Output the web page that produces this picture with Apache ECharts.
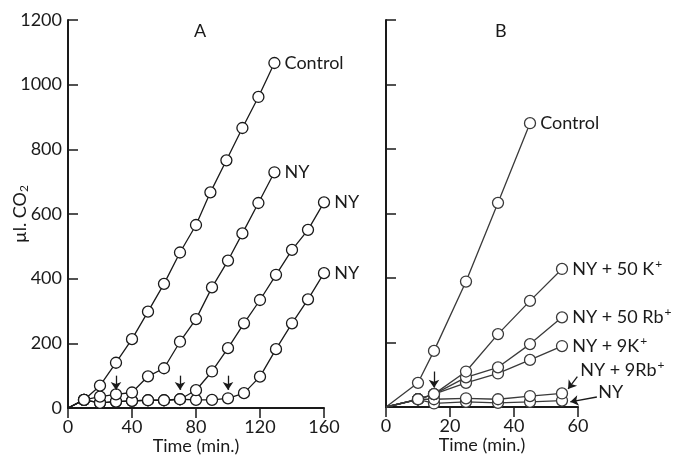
<!DOCTYPE html>
<html>
<head>
<meta charset="utf-8">
<script src="https://cdn.jsdelivr.net/npm/echarts@6/dist/echarts.min.js"></script>
<style>
  html, body { margin: 0; padding: 0; background: #fff; }
  #chart { width: 681px; height: 460px; }
</style>
</head>
<body>
<div id="chart"></div>
<script>
// Panel A: CO2 output (µl) against time (min)
const aControlTime = [0, 10, 20, 30, 40, 50, 60, 70, 80, 89, 99, 109, 119, 129];
const aControlCO2  = [0, 25, 69, 140, 213, 298, 384, 481, 566, 667, 766, 866, 962, 1067];
const aNY1Time = [0, 10, 20, 30, 40, 50, 60, 70, 80, 90, 100, 109, 119, 129];
const aNY1CO2  = [0, 25, 35, 42, 48, 98, 123, 205, 275, 373, 456, 540, 634, 729];
const aNY2Time = [0, 10, 20, 30, 40, 50, 60, 70, 80, 90, 100, 110, 120, 130, 140, 150, 160];
const aNY2CO2  = [0, 25, 16, 20, 22, 24, 24, 27, 55, 113, 185, 262, 334, 412, 489, 551, 636];
const aNY3Time = [0, 10, 20, 30, 40, 50, 60, 70, 80, 90, 100, 110, 120, 130, 140, 150, 160];
const aNY3CO2  = [0, 25, 16, 20, 22, 24, 24, 27, 25, 25, 30, 46, 97, 182, 262, 336, 417];
const aArrowTimes = [30, 70, 100];
const aArrowFrom = 100;
const aArrowTo = 56;

// Panel B
const bControlTime = [0, 10, 15, 25, 35, 45];
const bControlCO2  = [0, 75, 174, 389, 633, 880];
const bTime = [0, 10, 15, 25, 35, 45, 55];
const b50K  = [0, 24, 40, 110, 226, 329, 428];
const b50Rb = [0, 24, 40, 92, 123, 195, 278];
const b9K   = [0, 24, 40, 75, 104, 146, 189];
const b9Rb  = [0, 24, 24, 27, 24, 34, 42];
const bNY   = [0, 24, 11, 16, 13, 16, 20];
const bArrowTime = 15;
const bArrowFrom = 110;
const bArrowTo = 60;
// label pointers for the two lowest curves: [from, to] in (min, µl)
const bPointer9Rb = [[59.8, 94], [56.9, 56]];
const bPointerNY  = [[65.9, 31], [57.6, 16]];

const FONT = 'Lato, "Open Sans", sans-serif';
const INK = '#1a1a1a';
const FS = 18;

const chart = echarts.init(document.getElementById('chart'), null, { renderer: 'canvas' });

const supRich = {
  t: { fontFamily: FONT, fontSize: FS, color: INK },
  sup: { fontFamily: FONT, fontSize: 12, color: INK, padding: [0, 0, 10, 1] }
};

function buildData(times, values, labelCfg) {
  return times.map((t, i) => {
    const item = { value: [t, values[i]] };
    if (i === 0) item.symbol = 'none';
    if (i === times.length - 1 && labelCfg) {
      item.label = Object.assign({
        show: true,
        position: 'right',
        distance: 4,
        rich: supRich
      }, labelCfg);
    }
    return item;
  });
}

function lineSeries(idx, times, values, labelCfg, color) {
  return {
    type: 'line',
    xAxisIndex: idx,
    yAxisIndex: idx,
    data: buildData(times, values, labelCfg),
    symbol: 'circle',
    symbolSize: 11,
    showAllSymbol: true,
    clip: false,
    animation: false,
    lineStyle: { color: color, width: 1.3 },
    itemStyle: { color: '#fff', borderColor: color, borderWidth: 1.3 },
    emphasis: { disabled: true }
  };
}

// Pointer arrows drawn as a lines series in data coordinates
function arrowSeries(idx, pairs) {
  return {
    type: 'lines',
    coordinateSystem: 'cartesian2d',
    xAxisIndex: idx,
    yAxisIndex: idx,
    clip: false,
    silent: true,
    z: 5,
    symbol: ['none', 'arrow'],
    symbolSize: 8,
    lineStyle: { color: INK, width: 1.3, opacity: 1, curveness: 0 },
    data: pairs.map(p => ({ coords: [p[0], p[1]] }))
  };
}

const lbl = (txt) => ({ formatter: '{t|' + txt + '}' });
const lblSup = (txt) => ({ formatter: '{t|' + txt + '}{sup|+}' });

function xAxisCfg(idx, max, interval) {
  return {
    type: 'value', gridIndex: idx, min: 0, max: max, interval: interval,
    name: 'Time (min.)', nameLocation: 'middle', nameGap: 29,
    nameMoveOverlap: false,
    nameTextStyle: { fontFamily: FONT, fontSize: FS, color: INK },
    axisLine: { show: true, onZero: false, lineStyle: { color: INK, width: 2 } },
    axisTick: { show: true, inside: false, length: 10, lineStyle: { color: INK, width: 1.5 } },
    axisLabel: { fontFamily: FONT, fontSize: FS, color: INK, margin: 10, formatter: v => String(v) },
    splitLine: { show: false }
  };
}

function yAxisCfg(idx, showLabels) {
  const cfg = {
    type: 'value', gridIndex: idx, min: 0, max: 1200, interval: 200,
    axisLine: { show: true, onZero: false, lineStyle: { color: INK, width: 2 } },
    axisTick: { show: true, inside: true, length: 10, lineStyle: { color: INK, width: 1.5 } },
    axisLabel: { show: showLabels, fontFamily: FONT, fontSize: FS, color: INK, margin: 6, formatter: v => String(v) },
    splitLine: { show: false }
  };
  if (showLabels) {
    cfg.name = '{a|µl. CO}{s|2}';
    cfg.nameLocation = 'middle';
    cfg.nameGap = 38;
    cfg.nameRotate = 90;
    cfg.nameMoveOverlap = false;
    cfg.nameTextStyle = {
      rich: {
        a: { fontFamily: FONT, fontSize: FS, color: INK },
        s: { fontFamily: FONT, fontSize: 12, color: INK, padding: [8, 0, 0, 0] }
      }
    };
  }
  return cfg;
}

const colorA = '#1a1a1a';
const colorB = '#3a3a3a';

const option = {
  backgroundColor: '#fff',
  animation: false,
  grid: [
    { left: 68, top: 20, width: 256, height: 388, outerBoundsMode: 'none' },
    { left: 386, top: 20, width: 192, height: 387, outerBoundsMode: 'none' }
  ],
  xAxis: [xAxisCfg(0, 160, 40), xAxisCfg(1, 60, 20)],
  yAxis: [yAxisCfg(0, true), yAxisCfg(1, false)],
  title: [
    { text: 'A', left: 189, top: 17, textStyle: { fontFamily: FONT, fontSize: FS, fontWeight: 'normal', color: INK } },
    { text: 'B', left: 490, top: 17, textStyle: { fontFamily: FONT, fontSize: FS, fontWeight: 'normal', color: INK } }
  ],
  series: [
    lineSeries(0, aNY3Time, aNY3CO2, lbl('NY'), colorA),
    lineSeries(0, aNY2Time, aNY2CO2, lbl('NY'), colorA),
    lineSeries(0, aNY1Time, aNY1CO2, lbl('NY'), colorA),
    lineSeries(0, aControlTime, aControlCO2, lbl('Control'), colorA),
    arrowSeries(0, aArrowTimes.map(t => [[t, aArrowFrom], [t, aArrowTo]])),

    lineSeries(1, bTime, bNY, Object.assign(lbl('NY'), { offset: [26, -8] }), colorB),
    lineSeries(1, bTime, b9Rb, Object.assign(lblSup('NY + 9Rb'), { offset: [8, -23] }), colorB),
    lineSeries(1, bTime, b9K, lblSup('NY + 9K'), colorB),
    lineSeries(1, bTime, b50Rb, lblSup('NY + 50 Rb'), colorB),
    lineSeries(1, bTime, b50K, lblSup('NY + 50 K'), colorB),
    lineSeries(1, bControlTime, bControlCO2, lbl('Control'), colorB),
    arrowSeries(1, [
      [[bArrowTime, bArrowFrom], [bArrowTime, bArrowTo]],
      bPointer9Rb,
      bPointerNY
    ])
  ]
};

chart.setOption(option);
</script>
</body>
</html>
